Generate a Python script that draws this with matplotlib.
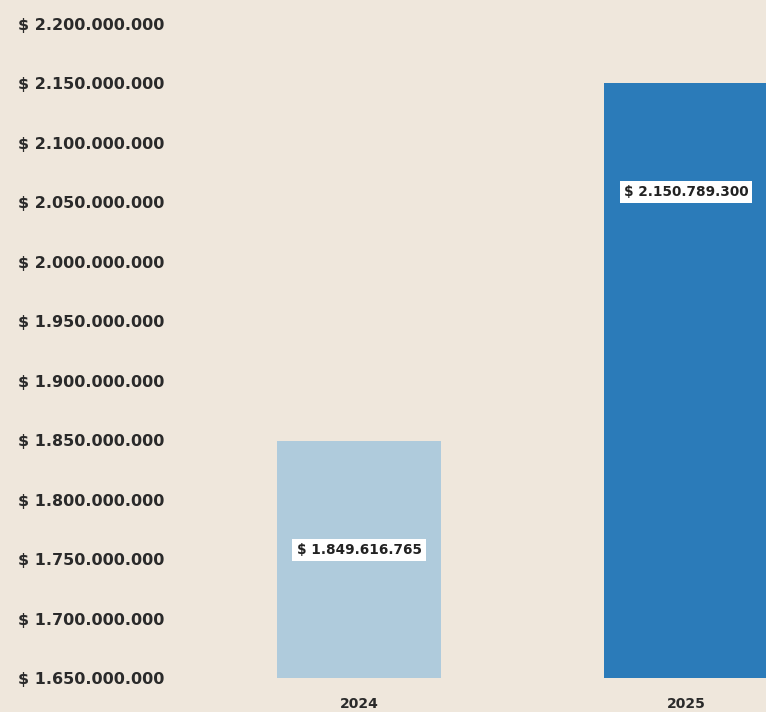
import matplotlib
matplotlib.use('Agg')
import matplotlib.pyplot as plt

years = ['2024', '2025']
values = [1849616765, 2150789300]
bar_colors = ['#afcbdc', '#2b7bb9']
ticks = [1650000000 + 50000000 * i for i in range(12)]

def fmt(v):
    return '$ ' + f'{v:,}'.replace(',', '.')

BG = '#efe7dc'
fig = plt.figure(figsize=(7.66, 7.12), dpi=100, facecolor=BG)
# axes in pixel terms: left 190, right 766, bottom 690, top 5 (from top)
ax = fig.add_axes([190 / 766, (712 - 690) / 712, (766 - 190) / 766, (690 - 5) / 712])
ax.set_facecolor(BG)

px = 0.55e9 / 654
ax.set_ylim(1.65e9 - 12 * px, 2.2e9 + 19 * px)
ax.set_xlim(-0.517, 1.245)

x = range(len(years))
bars = ax.bar(x, [v - 1.65e9 for v in values], bottom=1.65e9, width=0.5, color=bar_colors)

for b, v in zip(bars, values):
    ax.annotate(fmt(v), xy=(b.get_x() + b.get_width() / 2, v), xytext=(0, -79),
                textcoords='offset points', ha='center', va='center',
                fontsize=9.8, fontweight='bold', color='#222222',
                bbox=dict(boxstyle='square,pad=0.3', fc='white', ec='none'))

ax.set_yticks(ticks)
ax.set_yticklabels([fmt(t) for t in ticks], fontsize=11.5, fontweight='bold', color='#2a2a2a')
ax.tick_params(axis='y', length=0, pad=124)
for lab in ax.get_yticklabels():
    lab.set_horizontalalignment('left')

ax.set_xticks(list(x))
ax.set_xticklabels(years, fontsize=10, fontweight='bold', color='#2a2a2a')
ax.tick_params(axis='x', length=0, pad=5)

for s in ax.spines.values():
    s.set_visible(False)

fig.savefig('out.png', dpi=100, facecolor=BG)
